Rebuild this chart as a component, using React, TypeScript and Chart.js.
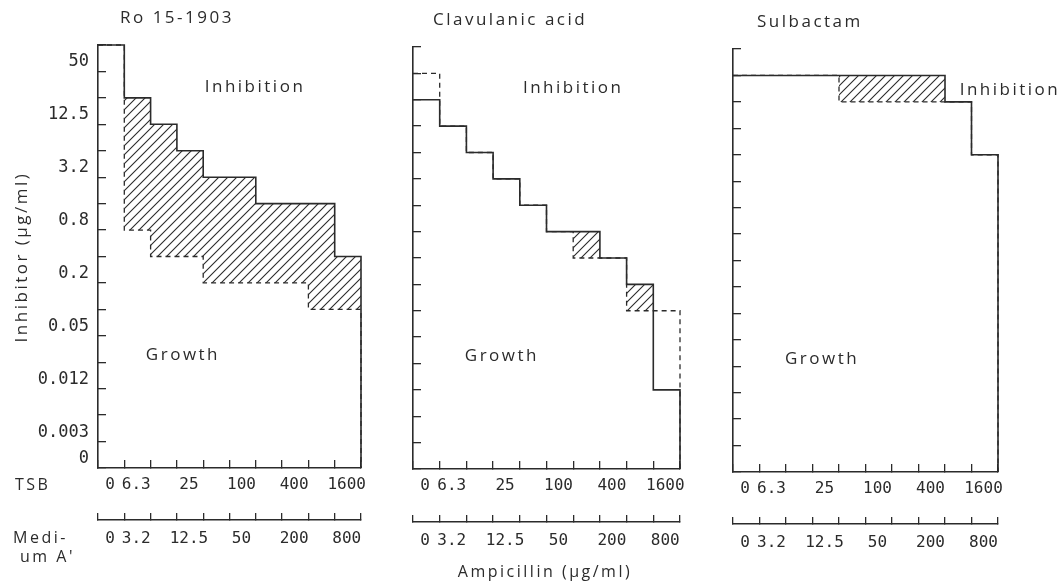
import React, { useEffect, useRef } from 'react';
import { Chart, registerables } from 'chart.js';

Chart.register(...registerables);

// ---------- data ----------
// inhibitor dilution steps, top band to bottom band
const inhibitorLevels = ['50', '25', '12.5', '6.3', '3.2', '1.6', '0.8', '0.4', '0.2', '0.1', '0.05', '0.025', '0.012', '0.006', '0.003', '0'];
const inhibitorTickLabels = ['50', '12.5', '3.2', '0.8', '0.2', '0.05', '0.012', '0.003', '0'];

// ampicillin columns
const tsbLevels = ['0', '6.3', '12.5', '25', '50', '100', '200', '400', '800', '1600'];
const tsbTickLabels = ['0', '6.3', '25', '100', '400', '1600'];
const mediumLevels = ['0', '3.2', '6.3', '12.5', '25', '50', '100', '200', '400', '800'];
const mediumTickLabels = ['0', '3.2', '12.5', '50', '200', '800'];

const panelTitles = ['Ro 15-1903', 'Clavulanic acid', 'Sulbactam'];

// growth/inhibition boundary per ampicillin column, in inhibitor steps counted up from the bottom
const roTSB = [16, 14, 13, 12, 11, 11, 10, 10, 10, 8];
const roMediumA = [16, 9, 8, 8, 7, 7, 7, 7, 6, 6];
const clavTSB = [14, 13, 12, 11, 10, 9, 9, 8, 7, 3];
const clavMediumA = [15, 13, 12, 11, 10, 9, 8, 8, 6, 6];
const sulbTSB = [15, 15, 15, 15, 15, 15, 15, 15, 14, 12];
const sulbMediumA = [15, 15, 15, 15, 14, 14, 14, 14, 14, 12];

const panelSolid = [roTSB, clavTSB, sulbTSB];
const panelDashed = [roMediumA, clavMediumA, sulbMediumA];

// ---------- styling / layout ----------
const INK = '#2b2b2b';
const MONO = 'DejaVu Sans Mono';
const SANS = 'Open Sans';
const H = 581;
const MED_H = 45;

const layouts = [
  { left: 0, width: 380, area: { left: 98, right: 361, top: 45, bottom: 468 }, medTop: 520 },
  { left: 380, width: 320, area: { left: 33, right: 300, top: 47, bottom: 469 }, medTop: 522 },
  { left: 700, width: 362, area: { left: 33, right: 298, top: 49, bottom: 472 }, medTop: 524 },
];

type Note = { text: string; x: number; y: number; data?: boolean; align?: CanvasTextAlign; rotate?: number; size?: number };

const panelNotes: Note[][] = [
  [
    { text: panelTitles[0], x: 120, y: 18, align: 'left' },
    { text: 'Inhibition', x: 5.97, y: 14.4, data: true },
    { text: 'Growth', x: 3.23, y: 4.26, data: true },
    { text: 'Inhibitor (µg/ml)', x: 22, y: 257, rotate: -Math.PI / 2 },
    { text: 'TSB', x: 15, y: 485, align: 'left', size: 16 },
    { text: 'Medi-', x: 13, y: 538, align: 'left', size: 16 },
    { text: "um A'", x: 20, y: 557, align: 'left', size: 16 },
  ],
  [
    { text: panelTitles[1], x: 53, y: 20, align: 'left' },
    { text: 'Inhibition', x: 6.0, y: 14.45, data: true },
    { text: 'Growth', x: 3.33, y: 4.26, data: true },
    { text: 'Ampicillin (µg/ml)', x: 165, y: 572, size: 16 },
  ],
  [
    { text: panelTitles[2], x: 57, y: 22, align: 'left' },
    { text: 'Inhibition', x: 10.45, y: 14.45, data: true },
    { text: 'Growth', x: 3.36, y: 4.26, data: true },
  ],
];

function stepPoints(levels: number[]) {
  const pts = levels.map((y, i) => ({ x: i, y }));
  pts.push({ x: levels.length, y: levels[levels.length - 1] });
  pts.push({ x: levels.length, y: 0 });
  return pts;
}

function makeHatch(): CanvasPattern | string {
  const s = 9;
  const c = document.createElement('canvas');
  c.width = s;
  c.height = s;
  const g = c.getContext('2d');
  if (!g) return 'rgba(0,0,0,0.2)';
  g.strokeStyle = INK;
  g.lineWidth = 1.1;
  g.beginPath();
  g.moveTo(-1, 1); g.lineTo(1, -1);
  g.moveTo(0, s); g.lineTo(s, 0);
  g.moveTo(s - 1, s + 1); g.lineTo(s + 1, s - 1);
  g.stroke();
  const p = g.createPattern(c, 'repeat');
  return p || 'rgba(0,0,0,0.2)';
}

function notesPlugin(notes: Note[]) {
  return {
    id: 'panelNotes',
    afterDraw(chart: any) {
      const ctx = chart.ctx;
      const xs = chart.scales.x;
      const ys = chart.scales.y;
      for (const n of notes) {
        const px = n.data ? xs.getPixelForValue(n.x) : n.x;
        const py = n.data ? ys.getPixelForValue(n.y) : n.y;
        ctx.save();
        ctx.translate(px, py);
        if (n.rotate) ctx.rotate(n.rotate);
        ctx.font = `${n.size || 17}px "${SANS}"`;
        (ctx as any).letterSpacing = '2.5px';
        ctx.textAlign = n.align || 'center';
        ctx.textBaseline = 'middle';
        ctx.fillStyle = INK;
        ctx.fillText(n.text, 0, 0);
        ctx.restore();
      }
    },
  };
}

const yTickValues = [0, ...inhibitorLevels.map((_, i) => inhibitorLevels.length - i)];
const colTickValues = [...tsbLevels.map((_, i) => i), tsbLevels.length];

function buildConfig(p: number, hatch: any): any {
  const L = layouts[p];
  const a = L.area;
  const showY = p === 0;
  return {
    type: 'line',
    data: {
      datasets: [
        {
          label: 'TSB',
          data: stepPoints(panelSolid[p]),
          borderColor: INK,
          borderWidth: 1.6,
          stepped: 'before',
          pointRadius: 0,
          clip: false,
          order: 0,
          fill: { target: 1, above: hatch, below: 'rgba(0,0,0,0)' },
        },
        {
          label: "Medium A'",
          data: stepPoints(panelDashed[p]),
          borderColor: INK,
          borderWidth: 1.3,
          borderDash: [5, 4],
          stepped: 'before',
          pointRadius: 0,
          clip: false,
          order: 1,
          fill: false,
        },
      ],
    },
    options: {
      animation: false,
      responsive: false,
      devicePixelRatio: 1,
      layout: { padding: { left: 0, top: a.top, right: L.width - a.right, bottom: H - L.medTop - MED_H } },
      plugins: { legend: { display: false }, tooltip: { enabled: false } },
      scales: {
        x: {
          type: 'linear',
          position: 'bottom',
          weight: 1,
          min: 0,
          max: tsbLevels.length,
          afterBuildTicks: (s: any) => { s.ticks = colTickValues.map((v) => ({ value: v })); },
          afterFit: (s: any) => { s.height = L.medTop - a.bottom; },
          ticks: {
            autoSkip: false, maxRotation: 0, minRotation: 0,
            callback: (v: number) => (tsbTickLabels.includes(tsbLevels[v]) ? tsbLevels[v] : ''),
            font: { family: MONO, size: 16 }, color: INK, padding: 15, labelOffset: 12,
          },
          grid: { drawOnChartArea: false, drawTicks: true, tickLength: -8, color: INK, lineWidth: 1.3 },
          border: { display: true, color: INK, width: 1.6 },
        },
        x2: {
          type: 'linear',
          position: 'bottom',
          weight: 2,
          min: 0,
          max: mediumLevels.length,
          afterBuildTicks: (s: any) => { s.ticks = colTickValues.map((v) => ({ value: v })); },
          afterFit: (s: any) => { s.height = MED_H; },
          ticks: {
            autoSkip: false, maxRotation: 0, minRotation: 0,
            callback: (v: number) => (mediumTickLabels.includes(mediumLevels[v]) ? mediumLevels[v] : ''),
            font: { family: MONO, size: 16 }, color: INK, padding: 16, labelOffset: 12,
          },
          grid: { drawOnChartArea: false, drawTicks: true, tickLength: -7, color: INK, lineWidth: 1.3 },
          border: { display: true, color: INK, width: 1.6 },
        },
        y: {
          type: 'linear',
          position: 'left',
          min: 0,
          max: inhibitorLevels.length,
          afterBuildTicks: (s: any) => { s.ticks = yTickValues.map((v) => ({ value: v })); },
          afterFit: (s: any) => { s.width = a.left; },
          ticks: {
            autoSkip: false,
            callback: (v: number) => {
              if (!showY) return '';
              const lab = inhibitorLevels[inhibitorLevels.length - v];
              return lab !== undefined && inhibitorTickLabels.includes(lab) ? lab : '';
            },
            font: { family: MONO, size: 17 }, color: INK, padding: 17, labelOffset: 17,
          },
          grid: { drawOnChartArea: false, drawTicks: true, tickLength: -8, color: INK, lineWidth: 1.3 },
          border: { display: true, color: INK, width: 1.6 },
        },
      },
    },
    plugins: [notesPlugin(panelNotes[p])],
  };
}

export default function App() {
  const r0 = useRef<HTMLCanvasElement | null>(null);
  const r1 = useRef<HTMLCanvasElement | null>(null);
  const r2 = useRef<HTMLCanvasElement | null>(null);

  useEffect(() => {
    const hatch = makeHatch();
    const refs = [r0, r1, r2];
    const charts: Chart[] = [];
    refs.forEach((r, i) => {
      if (r.current) charts.push(new Chart(r.current, buildConfig(i, hatch)));
    });
    return () => charts.forEach((c) => c.destroy());
  }, []);

  const refs = [r0, r1, r2];
  return (
    <div style={{ position: 'absolute', left: 0, top: 0, width: 1062, height: H, background: '#fff', overflow: 'hidden' }}>
      {layouts.map((L, i) => (
        <canvas
          key={i}
          ref={refs[i]}
          width={L.width}
          height={H}
          style={{ position: 'absolute', left: L.left, top: 0, width: L.width, height: H }}
        />
      ))}
    </div>
  );
}
